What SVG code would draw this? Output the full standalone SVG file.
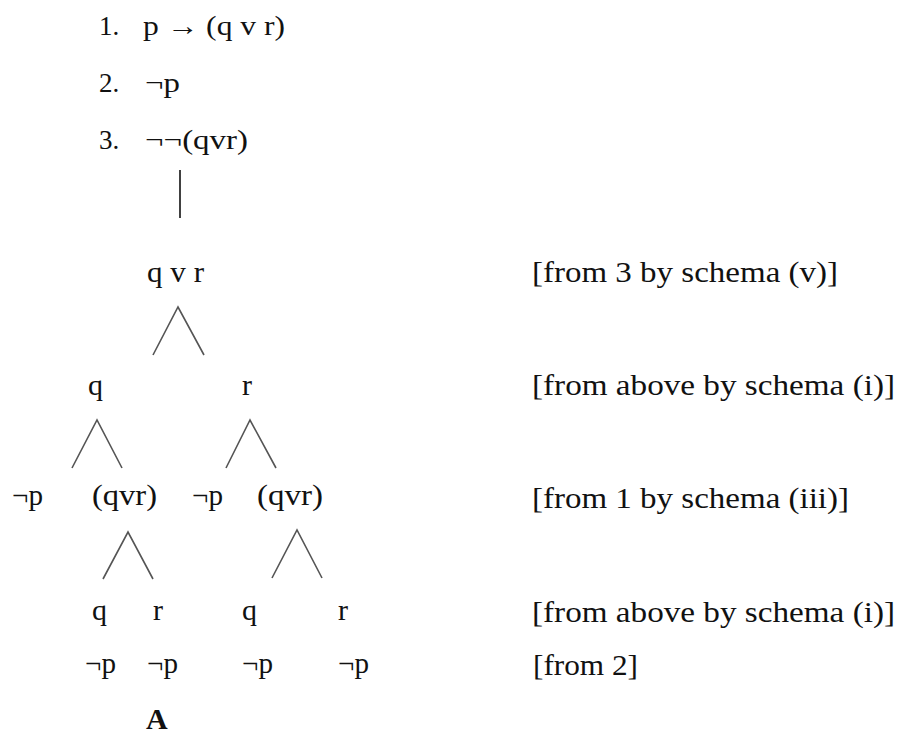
<svg xmlns="http://www.w3.org/2000/svg" width="899" height="736" viewBox="0 0 899 736">
<style>
.t{font-family:"Liberation Serif","Times New Roman",serif;fill:#111}
.s{font-size:27px}
.m{font-size:30px}
.l{font-size:30px}
.b{font-weight:bold}
.w{fill:none;stroke:#555;stroke-width:1.6}
.v{fill:none;stroke:#111;stroke-width:1.6}
</style>
<rect width="899" height="736" fill="#fff"/>
<g id="premises">
<g id="line1"><text class="t s" x="99" y="35">1.</text><text class="t s" x="143" y="35" textLength="142" lengthAdjust="spacingAndGlyphs">p → (q v r)</text></g>
<g id="line2"><text class="t s" x="99" y="92">2.</text><text class="t s" x="145" y="92" textLength="35" lengthAdjust="spacingAndGlyphs">¬p</text></g>
<g id="line3"><text class="t s" x="99" y="149">3.</text><text class="t s" x="145" y="149" textLength="103" lengthAdjust="spacingAndGlyphs">¬¬(qvr)</text></g>
</g>
<g id="connectors">
<line class="v" x1="180" y1="170" x2="180" y2="218"/>
<polyline class="w" points="153,355 178,307 204,355"/>
<polyline class="w" points="72,468 97,420 122,468"/>
<polyline class="w" points="226,468 250,420 276,468"/>
<polyline class="w" points="103,579 128,532 153,579"/>
<polyline class="w" points="272,578 297,530 322,578"/>
</g>
<g id="n-qvr"><text class="t m" x="147" y="282" textLength="57" lengthAdjust="spacingAndGlyphs">q v r</text></g>
<g id="n-q1"><text class="t m" x="88" y="395">q</text></g>
<g id="n-r1"><text class="t m" x="242" y="395">r</text></g>
<g id="n-np1"><text class="t m" x="12" y="505" textLength="31" lengthAdjust="spacingAndGlyphs">¬p</text></g>
<g id="n-qvr1"><text class="t m" x="92" y="505" textLength="65" lengthAdjust="spacingAndGlyphs">(qvr)</text></g>
<g id="n-np2"><text class="t m" x="192" y="505" textLength="31" lengthAdjust="spacingAndGlyphs">¬p</text></g>
<g id="n-qvr2"><text class="t m" x="257" y="505" textLength="66" lengthAdjust="spacingAndGlyphs">(qvr)</text></g>
<g id="n-q2"><text class="t m" x="92" y="620">q</text></g>
<g id="n-r2"><text class="t m" x="153" y="620">r</text></g>
<g id="n-q3"><text class="t m" x="242" y="620">q</text></g>
<g id="n-r3"><text class="t m" x="338" y="620">r</text></g>
<g id="n-np3"><text class="t m" x="85" y="673" textLength="31" lengthAdjust="spacingAndGlyphs">¬p</text></g>
<g id="n-np4"><text class="t m" x="147" y="673" textLength="31" lengthAdjust="spacingAndGlyphs">¬p</text></g>
<g id="n-np5"><text class="t m" x="242" y="673" textLength="31" lengthAdjust="spacingAndGlyphs">¬p</text></g>
<g id="n-np6"><text class="t m" x="338" y="673" textLength="31" lengthAdjust="spacingAndGlyphs">¬p</text></g>
<g id="n-A"><text class="t m b" x="146" y="729">A</text></g>
<g id="labels">
<text class="t l" x="532" y="282" textLength="306" lengthAdjust="spacingAndGlyphs">[from 3 by schema (v)]</text>
<text class="t l" x="532" y="395" textLength="363" lengthAdjust="spacingAndGlyphs">[from above by schema (i)]</text>
<text class="t l" x="532" y="508" textLength="317" lengthAdjust="spacingAndGlyphs">[from 1 by schema (iii)]</text>
<text class="t l" x="532" y="622" textLength="363" lengthAdjust="spacingAndGlyphs">[from above by schema (i)]</text>
<text class="t l" x="533" y="675" textLength="105" lengthAdjust="spacingAndGlyphs">[from 2]</text>
</g>
</svg>
